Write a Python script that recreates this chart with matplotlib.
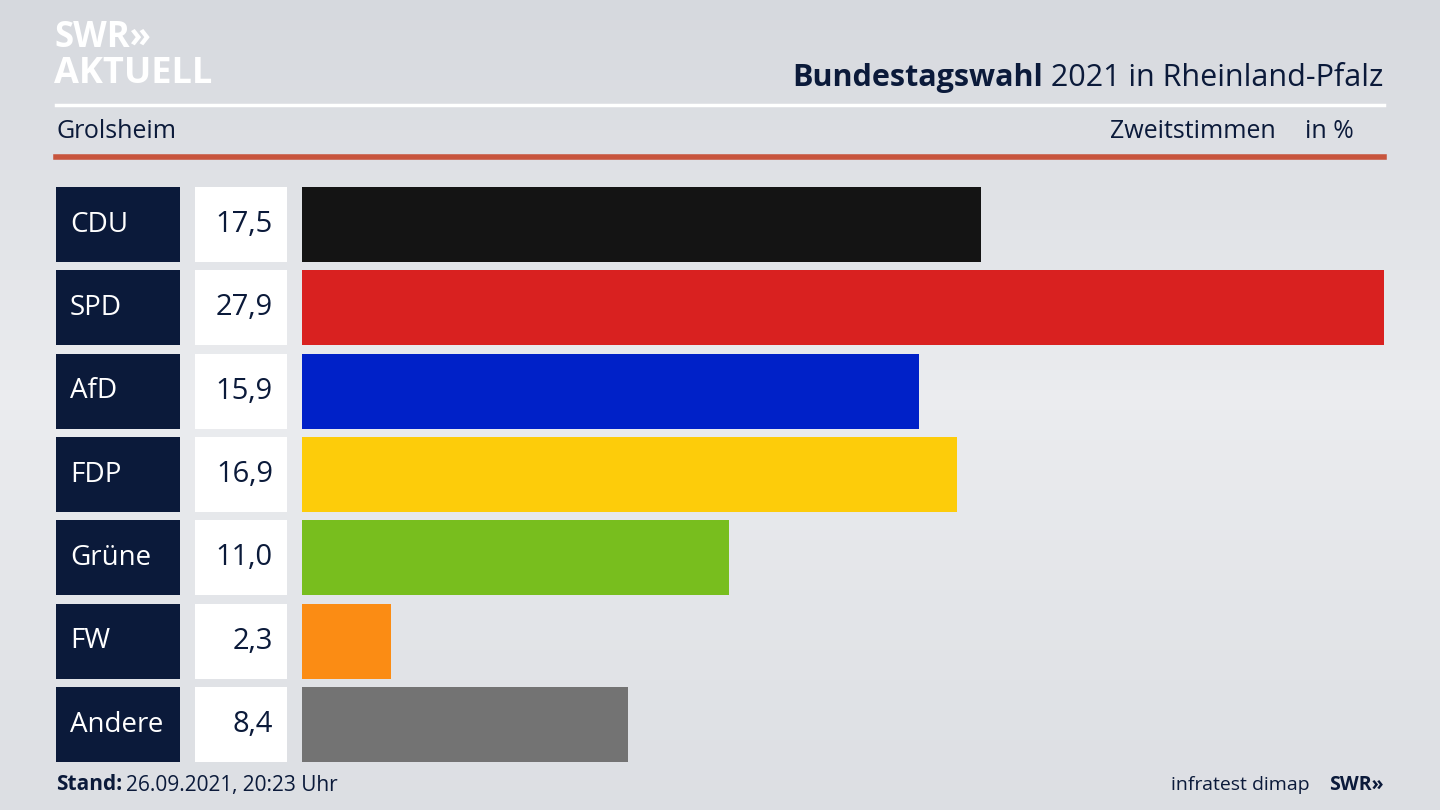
import numpy as np
import matplotlib.pyplot as plt

parties = ['CDU', 'SPD', 'AfD', 'FDP', 'Grüne', 'FW', 'Andere']
values = [17.5, 27.9, 15.9, 16.9, 11.0, 2.3, 8.4]
colors = ['#141414', '#d92120', '#0021c8', '#fdcc0a', '#78be1e', '#fb8c14', '#737373']

navy = '#0b1a3a'
font = 'Open Sans'

fig = plt.figure(figsize=(14.4, 8.1), dpi=100)

# background + decorations in pixel coordinates
bg = fig.add_axes([0, 0, 1, 1])
bg.set_xlim(0, 1440)
bg.set_ylim(810, 0)
bg.axis('off')
grad = np.concatenate([np.linspace(0, 1, 40), np.linspace(1, 0.3, 41)])[:, None]
bg.imshow(grad, extent=[0, 1440, 810, 0], cmap=plt.matplotlib.colors.LinearSegmentedColormap.from_list('g', ['#d6d9de', '#ebecef']), aspect='auto', zorder=0)

bg.text(54, 56, 'SWR»', color='white', fontsize=25, fontweight='bold', family=font, va='bottom')
bg.text(54, 92, 'AKTUELL', color='white', fontsize=26, fontweight='bold', family=font, va='bottom')
bg.plot([56, 1384], [105, 105], color='white', lw=2.5)
bg.plot([56, 1384], [157, 157], color='#c8553d', lw=4)

t1 = bg.text(1383, 78, ' 2021 in Rheinland-Pfalz', color=navy, fontsize=22, family=font, ha='right', va='center')
fig.canvas.draw()
bb = t1.get_window_extent()
bg.text(bb.x0, 810 - 78, 'Bundestagswahl', color=navy, fontsize=22, fontweight='bold', family=font,
        ha='right', va='center', transform=None)

bg.text(56, 132, 'Grolsheim', color=navy, fontsize=18, family=font, va='center')
bg.text(1276, 132, 'Zweitstimmen', color=navy, fontsize=18, family=font, va='center', ha='right')
bg.text(1354, 132, 'in %', color=navy, fontsize=18, family=font, va='center', ha='right')

bg.text(126, 785, '26.09.2021, 20:23 Uhr', color=navy, fontsize=15, family=font, va='center')
bg.text(122, 785, 'Stand:', color=navy, fontsize=15, fontweight='bold', family=font, va='center', ha='right')
bg.text(1310, 785, 'infratest dimap', color=navy, fontsize=14, family=font, va='center', ha='right')
bg.text(1384, 785, 'SWR»', color=navy, fontsize=14, fontweight='bold', family=font, va='center', ha='right')

# label boxes
lab = fig.add_axes([56 / 1440, (810 - 762) / 810, (287 - 56) / 1440, 575 / 810])
lab.set_xlim(56, 287)
lab.set_ylim(6.45, -0.45)
lab.axis('off')
y = np.arange(len(parties))
lab.barh(y, [124] * len(y), left=56, height=0.9, color=navy)
lab.barh(y, [92] * len(y), left=195, height=0.9, color='white')
for i, (p, v) in enumerate(zip(parties, values)):
    lab.text(70, i, p, color='white', fontsize=20, family=font, va='center')
    lab.text(273, i, f'{v:.1f}'.replace('.', ','), color=navy, fontsize=21, family=font, va='center', ha='right')

# bars
ax = fig.add_axes([302 / 1440, (810 - 762) / 810, (1384 - 302) / 1440, 575 / 810])
ax.set_xlim(0, max(values))
ax.set_ylim(6.45, -0.45)
ax.axis('off')
ax.barh(y, values, height=0.9, color=colors)

fig.savefig('out.png', dpi=100)
